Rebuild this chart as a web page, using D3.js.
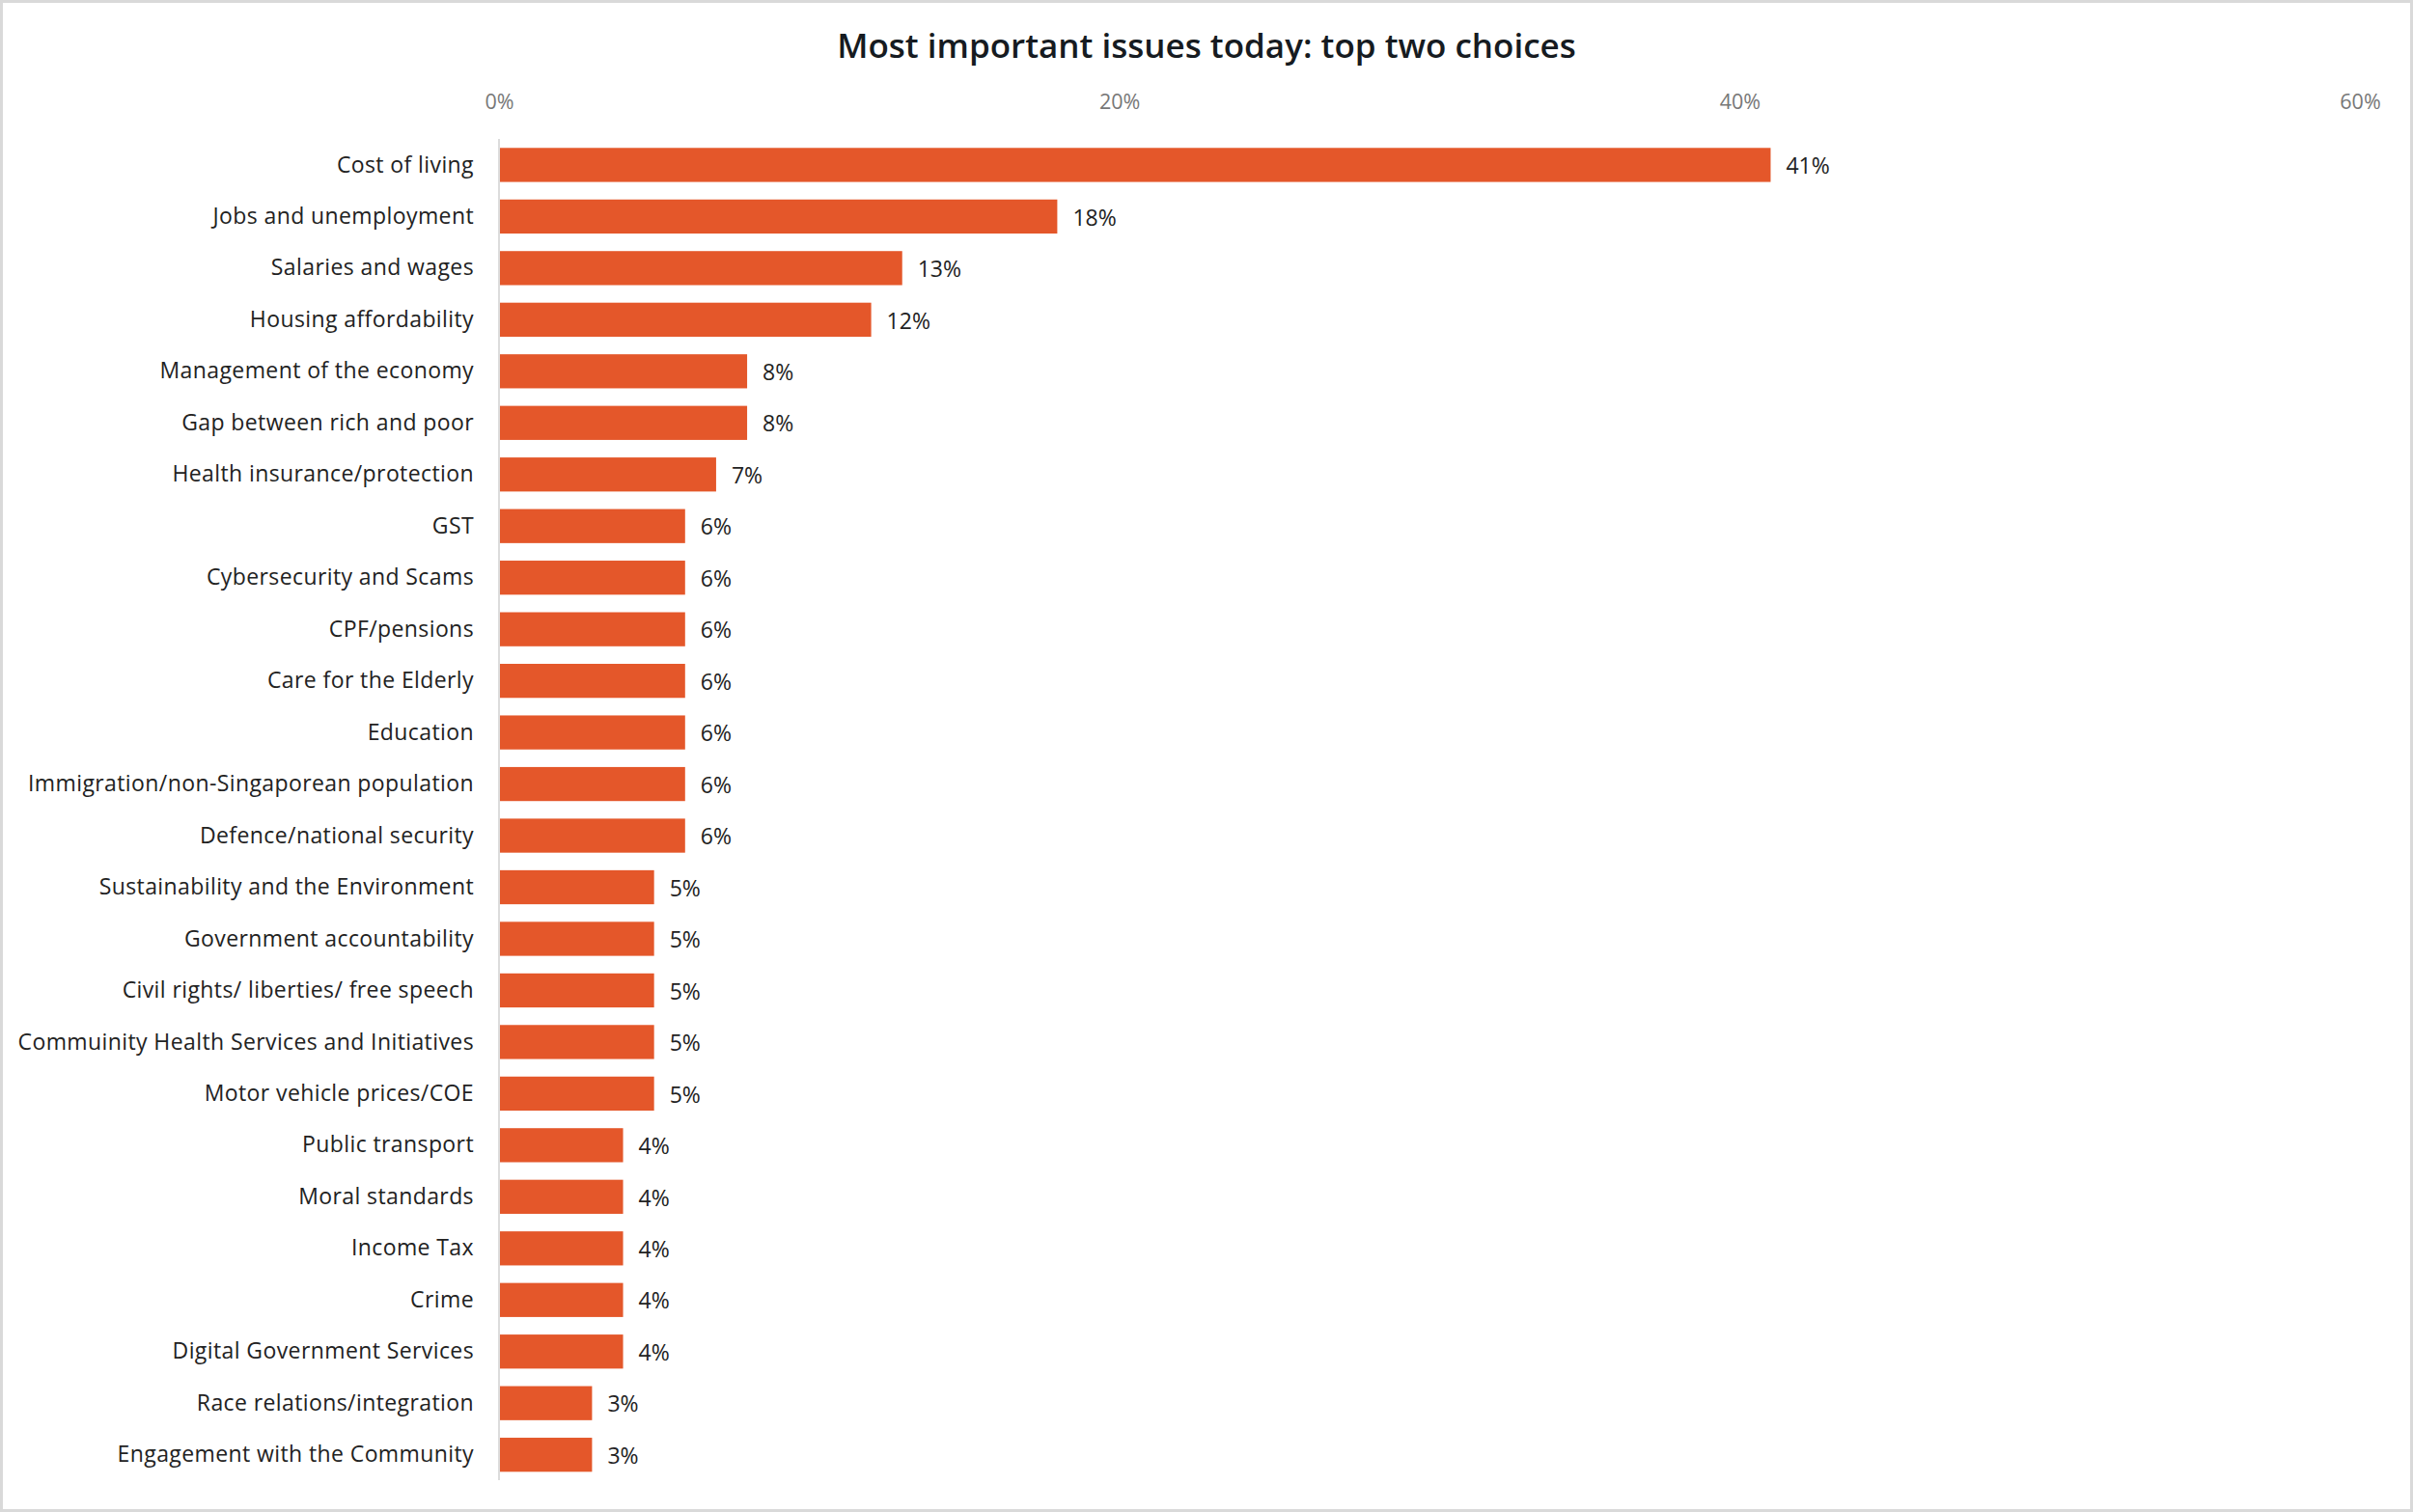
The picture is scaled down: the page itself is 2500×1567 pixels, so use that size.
<!DOCTYPE html>
<html>
<head>
<meta charset="utf-8">
<script src="https://cdn.jsdelivr.net/npm/d3@7"></script>
<style>
  html, body { margin: 0; padding: 0; background: #fff; }
  svg { display: block; }
  text { font-family: "Open Sans", "Noto Sans", sans-serif; }
</style>
</head>
<body>
<svg id="chart" width="2500" height="1567"></svg>
<script>
const categories = [
  "Cost of living",
  "Jobs and unemployment",
  "Salaries and wages",
  "Housing affordability",
  "Management of the economy",
  "Gap between rich and poor",
  "Health insurance/protection",
  "GST",
  "Cybersecurity and Scams",
  "CPF/pensions",
  "Care for the Elderly",
  "Education",
  "Immigration/non-Singaporean population",
  "Defence/national security",
  "Sustainability and the Environment",
  "Government accountability",
  "Civil rights/ liberties/ free speech",
  "Commuinity Health Services and Initiatives",
  "Motor vehicle prices/COE",
  "Public transport",
  "Moral standards",
  "Income Tax",
  "Crime",
  "Digital Government Services",
  "Race relations/integration",
  "Engagement with the Community"
];
const values = [41, 18, 13, 12, 8, 8, 7, 6, 6, 6, 6, 6, 6, 6, 5, 5, 5, 5, 5, 4, 4, 4, 4, 4, 3, 3];
const xTicks = [0, 20, 40, 60];
const title = "Most important issues today: top two choices";

const svg = d3.select("#chart");
const W = 2500, H = 1567;

// frame
svg.append("rect")
  .attr("x", 1.5).attr("y", 1.5)
  .attr("width", W - 3).attr("height", H - 3)
  .attr("fill", "#fff")
  .attr("stroke", "#d9d9d9")
  .attr("stroke-width", 3);

const x = d3.scaleLinear().domain([0, 60]).range([517, 2445]);
const y = d3.scaleBand().domain(categories).range([135.1, 1543.5]).padding(0.34);

// title
svg.append("text")
  .attr("x", 1250).attr("y", 60)
  .attr("text-anchor", "middle")
  .attr("font-size", 35)
  .attr("font-weight", 600)
  .attr("fill", "#161b21")
  .text(title);

// top axis tick labels
const xAxis = d3.axisTop(x)
  .tickValues(xTicks)
  .tickFormat(d => d + "%")
  .tickSize(0)
  .tickPadding(0);
const gx = svg.append("g")
  .attr("transform", "translate(0,113)")
  .call(xAxis);
gx.select(".domain").remove();
gx.selectAll("text")
  .attr("font-size", 21.5)
  .attr("fill", "#777")
  .attr("dy", 0)
  .style("font-family", '"Open Sans", "Noto Sans", sans-serif');

// vertical baseline
svg.append("line")
  .attr("x1", x(0)).attr("x2", x(0))
  .attr("y1", 144).attr("y2", 1534)
  .attr("stroke", "#dcdcdc")
  .attr("stroke-width", 2);

// bars
svg.append("g").selectAll("rect")
  .data(categories)
  .join("rect")
  .attr("x", x(0) + 1)
  .attr("y", d => y(d))
  .attr("width", (d, i) => x(values[i]) - x(0) - 1)
  .attr("height", y.bandwidth())
  .attr("fill", "#e4572a");

// category labels
svg.append("g").selectAll("text")
  .data(categories)
  .join("text")
  .attr("x", 491)
  .attr("y", d => y(d) + y.bandwidth() / 2)
  .attr("dy", "0.33em")
  .attr("text-anchor", "end")
  .attr("font-size", 23)
  .attr("letter-spacing", 0.4)
  .attr("fill", "#222")
  .text(d => d);

// value labels
svg.append("g").selectAll("text")
  .data(categories)
  .join("text")
  .attr("x", (d, i) => x(values[i]) + 16)
  .attr("y", d => y(d) + y.bandwidth() / 2)
  .attr("dy", "0.4em")
  .attr("font-size", 23)
  .attr("fill", "#222")
  .text((d, i) => values[i] + "%");
</script>
</body>
</html>
